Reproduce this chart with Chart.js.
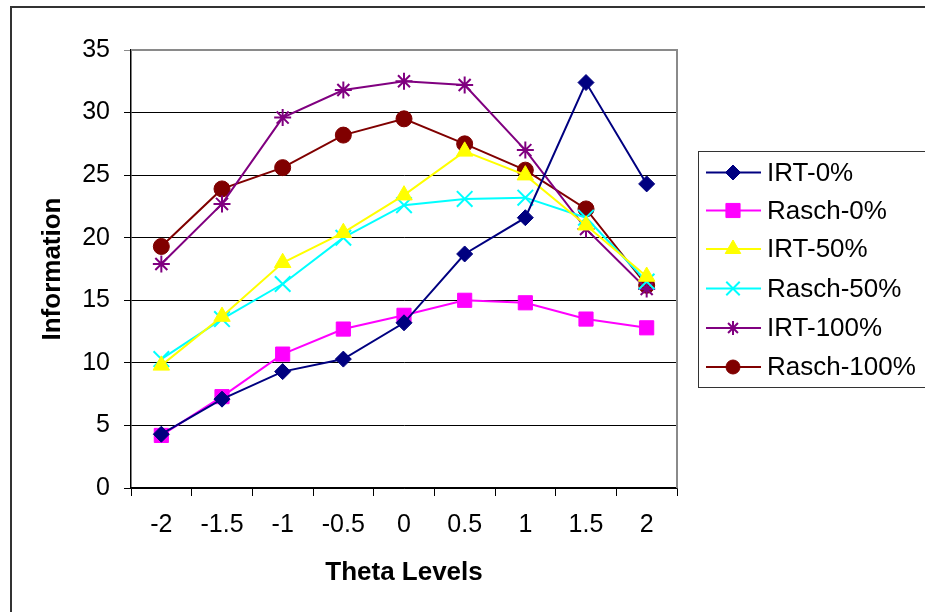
<!DOCTYPE html>
<html>
<head>
<meta charset="utf-8">
<script src="https://cdn.jsdelivr.net/npm/chart.js@4/dist/chart.umd.min.js"></script>
<style>
  html, body { margin: 0; padding: 0; background: #fff; }
  #wrap { width: 925px; height: 612px; position: relative; }
</style>
</head>
<body>
<div id="wrap"><canvas id="c" width="925" height="612"></canvas></div>
<script>
const categories = ["-2", "-1.5", "-1", "-0.5", "0", "0.5", "1", "1.5", "2"];
const irt0     = [4.3, 7.1, 9.3, 10.3, 13.2, 18.7, 21.6, 32.4, 24.3];
const rasch0   = [4.2, 7.3, 10.7, 12.7, 13.8, 15.0, 14.8, 13.5, 12.8];
const irt50    = [9.8, 13.7, 18.0, 20.4, 23.4, 26.9, 25.0, 21.0, 16.9];
const rasch50  = [10.3, 13.5, 16.3, 20.0, 22.6, 23.1, 23.2, 21.6, 16.5];
const irt100   = [17.9, 22.7, 29.6, 31.8, 32.5, 32.2, 27.0, 20.7, 15.9];
const rasch100 = [19.3, 23.9, 25.6, 28.2, 29.5, 27.5, 25.4, 22.3, 16.2];
const seriesNames = ["IRT-0%", "Rasch-0%", "IRT-50%", "Rasch-50%", "IRT-100%", "Rasch-100%"];
const yTicks = [0, 5, 10, 15, 20, 25, 30, 35];

const FONT = "'Liberation Sans', Arial, sans-serif";

function ds(label, data, color, style, radius, legendRadius, filled) {
  return {
    label, data,
    borderColor: color,
    backgroundColor: color,
    pointBackgroundColor: color,
    pointBorderColor: color,
    pointStyle: style,
    pointRadius: radius,
    pointHoverRadius: radius,
    pointBorderWidth: filled ? 1 : 2,
    borderWidth: 2,
    tension: 0,
    fill: false,
    legendRadius: legendRadius
  };
}

const datasets = [
  ds(seriesNames[0], irt0, "#000080", "rectRot", 8, 7.5, true),
  ds(seriesNames[1], rasch0, "#FF00FF", "rect", 10, 10, true),
  ds(seriesNames[2], irt50, "#FFFF00", "triangle", 9.5, 9, true),
  ds(seriesNames[3], rasch50, "#00FFFF", "crossRot", 11, 9.5, false),
  ds(seriesNames[4], irt100, "#800080", "star", 8.5, 7, false),
  ds(seriesNames[5], rasch100, "#800000", "circle", 8, 7, true)
];

const framePlugin = {
  id: "frame",
  beforeDraw(chart) {
    const ctx = chart.ctx;
    ctx.save();
    ctx.fillStyle = "#fff";
    ctx.fillRect(0, 0, chart.width, chart.height);
    ctx.strokeStyle = "#333";
    ctx.lineWidth = 2;
    ctx.beginPath();
    ctx.moveTo(11, chart.height + 5);
    ctx.lineTo(11, 7);
    ctx.lineTo(chart.width + 5, 7);
    ctx.stroke();
    ctx.restore();
  },
  afterDatasetsDraw(chart) {
    const ctx = chart.ctx;
    const a = chart.chartArea;
    ctx.save();
    ctx.strokeStyle = "#8a8a8a";
    ctx.lineWidth = 2;
    ctx.beginPath();
    ctx.moveTo(a.left, a.top);
    ctx.lineTo(a.right, a.top);
    ctx.lineTo(a.right, a.bottom);
    ctx.stroke();
    ctx.restore();
  },
  afterDraw(chart) {
    const ctx = chart.ctx;
    ctx.save();
    const bx = 698.5, by = 151.5, bw = 240, bh = 236;
    ctx.strokeStyle = "#333";
    ctx.lineWidth = 1;
    ctx.strokeRect(bx, by, bw, bh);
    const ys = [172.5, 210.5, 249, 288.5, 328, 367];
    chart.data.datasets.forEach((d, i) => {
      const y = ys[i];
      ctx.strokeStyle = d.borderColor;
      ctx.lineWidth = 2;
      ctx.beginPath();
      ctx.moveTo(706, y);
      ctx.lineTo(761, y);
      ctx.stroke();
      ctx.fillStyle = d.backgroundColor;
      ctx.strokeStyle = d.borderColor;
      ctx.lineWidth = d.pointBorderWidth;
      Chart.helpers.drawPoint(ctx, {
        pointStyle: d.pointStyle,
        radius: d.legendRadius,
        rotation: 0,
        borderWidth: d.pointBorderWidth
      }, 733, y);
      ctx.fillStyle = "#000";
      ctx.font = "26px " + FONT;
      ctx.textBaseline = "middle";
      ctx.textAlign = "left";
      ctx.fillText(d.label, 767, y + 1);
    });
    ctx.restore();
  }
};

new Chart(document.getElementById("c"), {
  type: "line",
  data: { labels: categories, datasets },
  options: {
    responsive: false,
    animation: false,
    events: [],
    layout: { padding: { left: 0, top: 50, right: 248, bottom: 0 } },
    plugins: {
      legend: { display: false },
      tooltip: { enabled: false },
      title: { display: false }
    },
    scales: {
      x: {
        type: "category",
        offset: true,
        afterFit(scale) { scale.height = 124; },
        grid: {
          offset: true,
          drawOnChartArea: false,
          drawTicks: true,
          tickLength: 8,
          color: "#000",
          lineWidth: 1
        },
        border: { display: true, color: "#000", width: 1.5 },
        ticks: {
          color: "#000",
          font: { family: FONT, size: 25 },
          padding: 14,
          maxRotation: 0,
          autoSkip: false
        },
        title: {
          display: true,
          text: "Theta Levels",
          color: "#000",
          font: { family: FONT, size: 26, weight: "bold" },
          padding: { top: 0, bottom: 24 }
        }
      },
      y: {
        min: 0,
        max: 35,
        afterFit(scale) { scale.width = 131; },
        afterBuildTicks(scale) { scale.ticks = yTicks.map(v => ({ value: v })); },
        grid: {
          drawOnChartArea: true,
          drawTicks: true,
          tickLength: 7,
          color: (c) => (c.tick && c.tick.value === 35) ? "#8a8a8a" : "#000",
          lineWidth: 1
        },
        border: { display: true, color: "#000", width: 1.5 },
        ticks: {
          color: "#000",
          font: { family: FONT, size: 25 },
          padding: 14
        },
        title: {
          display: true,
          text: "Information",
          color: "#000",
          font: { family: FONT, size: 26, weight: "bold" },
          padding: { top: 37, bottom: 0 }
        }
      }
    }
  },
  plugins: [framePlugin]
});
</script>
</body>
</html>
